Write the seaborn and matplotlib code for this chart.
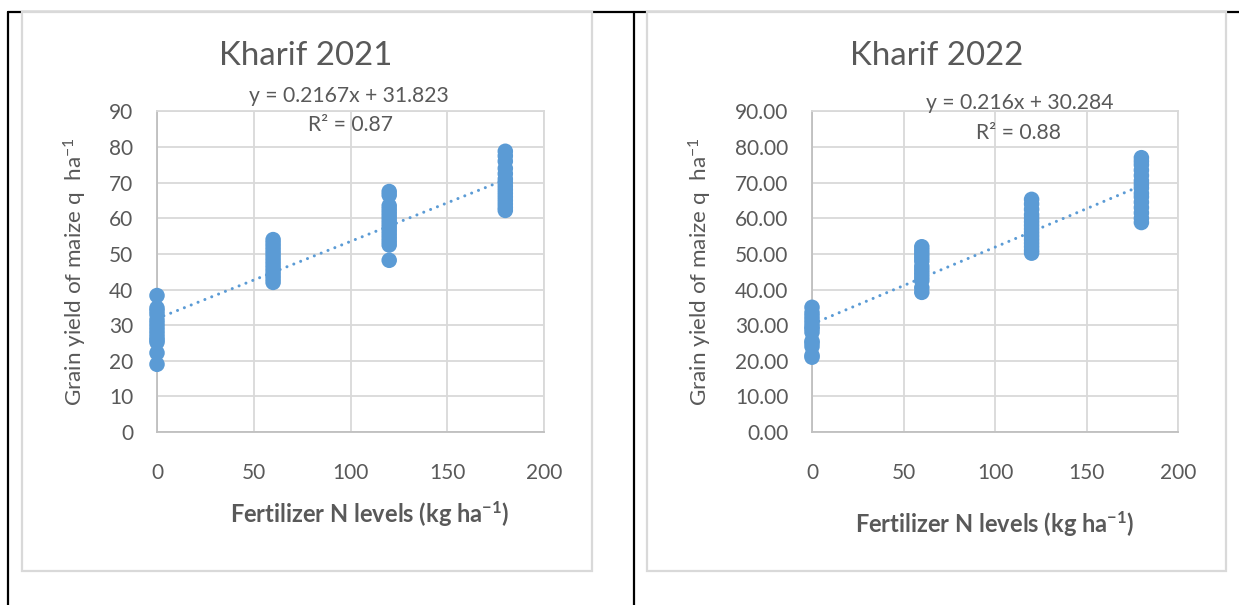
import numpy as np
import pandas as pd
import seaborn as sns
import matplotlib.pyplot as plt
from matplotlib.patches import Rectangle
from matplotlib.lines import Line2D
from matplotlib.ticker import FormatStrFormatter

# ---------------- data ----------------
n_levels = [0, 60, 120, 180]

# Kharif 2021 grain yield (q/ha) per N level
y2021_n0 = [38.3, 34.8, 34.0, 33.0, 31.5, 30.5, 29.5, 28.5, 27.5, 26.5, 25.8, 25.2, 22.2, 19.0]
y2021_n60 = [54.0, 53.0, 52.0, 51.0, 50.0, 49.0, 48.0, 47.0, 46.0, 45.0, 44.0, 43.0, 42.0]
y2021_n120 = [67.5, 66.5, 63.5, 62.5, 61.5, 60.5, 59.5, 58.5, 57.5, 56.5, 55.5, 54.5, 53.5, 52.5, 48.2]
y2021_n180 = [78.8, 77.5, 76.0, 74.0, 72.5, 71.0, 70.0, 69.0, 68.0, 67.0, 66.0, 65.0, 64.0, 63.0, 62.2]

# Kharif 2022 grain yield (q/ha) per N level
y2022_n0 = [35.0, 33.5, 32.5, 31.5, 30.5, 29.5, 29.0, 28.0, 25.5, 25.0, 24.0, 21.5, 21.0]
y2022_n60 = [52.0, 51.0, 50.0, 49.0, 48.0, 46.5, 45.5, 44.5, 43.5, 42.5, 40.5, 39.2]
y2022_n120 = [65.3, 64.0, 62.5, 61.0, 60.0, 59.0, 58.0, 57.0, 56.0, 55.0, 54.0, 53.0, 52.0, 51.0, 50.2]
y2022_n180 = [77.0, 76.0, 75.0, 73.5, 72.0, 70.5, 69.5, 68.5, 67.0, 66.0, 64.5, 63.0, 61.5, 60.0, 58.8]

titles = ["Kharif 2021", "Kharif 2022"]
slopes = [0.2167, 0.216]
intercepts = [31.823, 30.284]
eq_labels = ["y = 0.2167x + 31.823", "y = 0.216x + 30.284"]
r2_labels = ["R² = 0.87", "R² = 0.88"]
x_ticks = [0, 50, 100, 150, 200]
y_ticks = [0, 10, 20, 30, 40, 50, 60, 70, 80, 90]
y_formats = ["%d", "%.2f"]
x_label = r"Fertilizer N levels (kg ha$^{\mathbf{-1}}$)"
y_label = r"Grain yield of maize q  ha$^{-1}$"


def make_df(groups):
    rows = []
    for n, vals in zip(n_levels, groups):
        for v in vals:
            rows.append((n, v))
    return pd.DataFrame(rows, columns=["N", "yield"])


dfs = [make_df([y2021_n0, y2021_n60, y2021_n120, y2021_n180]),
       make_df([y2022_n0, y2022_n60, y2022_n120, y2022_n180])]

# ---------------- style ----------------
sns.set_theme(style="white")
plt.rcParams['font.family'] = ['Lato', 'DejaVu Sans']
plt.rcParams['mathtext.fontset'] = 'custom'
plt.rcParams['mathtext.rm'] = 'Lato'
plt.rcParams['mathtext.it'] = 'Lato:italic'
plt.rcParams['mathtext.bf'] = 'Lato:bold'

W, H = 1239, 605
fig = plt.figure(figsize=(W / 100, H / 100), dpi=100)

TXT = "#595959"
BLUE = "#5b9bd5"
GRID = "#d9d9d9"


def fx(px):
    return px / W


def fy(py):
    return 1 - py / H


# table lines
lw_tab = 1.6
fig.add_artist(Line2D([fx(8), 1.0], [fy(11.5), fy(11.5)], color="black", lw=lw_tab, zorder=-3))
fig.add_artist(Line2D([fx(8), fx(8)], [fy(11.5), 0], color="black", lw=lw_tab, zorder=-3))
fig.add_artist(Line2D([fx(633.5), fx(633.5)], [fy(11.5), 0], color="black", lw=lw_tab, zorder=-3))

# chart area boxes
boxes = [(22, 12, 592, 571), (647, 12, 1226, 571)]
for (x0, y0, x1, y1) in boxes:
    fig.add_artist(Rectangle((fx(x0), fy(y1)), fx(x1) - fx(x0), fy(y0) - fy(y1),
                             transform=fig.transFigure, facecolor="white",
                             edgecolor=GRID, lw=1.6, zorder=-2))

# panel geometry (pixels)
panels = [
    dict(ax=(157, 544), title=(306, 56), eq=(349, 96), r2=(350, 125), xl=(370, 513), yl=(75, 272)),
    dict(ax=(812, 1178), title=(937, 56), eq=(1020, 103), r2=(1019, 133), xl=(995, 523), yl=(700, 272)),
]
y_top_px = 432 - 90 * 3.5625
y_bot_px = 432

for i, p in enumerate(panels):
    xl0, xl1 = p["ax"]
    ax = fig.add_axes([fx(xl0), fy(y_bot_px), fx(xl1) - fx(xl0), fy(y_top_px) - fy(y_bot_px)])
    ax.set_facecolor("none")
    df = dfs[i]
    sns.scatterplot(data=df, x="N", y="yield", ax=ax, color=BLUE, s=125,
                    edgecolor="none", linewidth=0, zorder=3, clip_on=False, legend=False)
    xs = np.array([min(n_levels), max(n_levels)], dtype=float)
    ys = slopes[i] * xs + intercepts[i]
    sns.lineplot(x=xs, y=ys, ax=ax, color=BLUE, lw=2.2, linestyle=(0, (0.01, 2.4)),
                 dash_capstyle="round", solid_capstyle="round", zorder=4, legend=False)

    ax.set_xlim(0, 200)
    ax.set_ylim(0, 90)
    ax.set_xticks(x_ticks)
    ax.set_yticks(y_ticks)
    ax.yaxis.set_major_formatter(FormatStrFormatter(y_formats[i]))
    ax.grid(True, color=GRID, lw=1.3)
    ax.set_axisbelow(True)
    for s in ["top", "right"]:
        ax.spines[s].set_color(GRID)
        ax.spines[s].set_linewidth(1.3)
    for s in ["left", "bottom"]:
        ax.spines[s].set_color("#bfbfbf")
        ax.spines[s].set_linewidth(1.3)
    ax.tick_params(axis="both", length=0, labelsize=15, labelcolor=TXT)
    ax.tick_params(axis="x", pad=22)
    ax.tick_params(axis="y", pad=17)
    ax.set_xlabel("")
    ax.set_ylabel("")

    fig.text(fx(p["title"][0]), fy(p["title"][1]), titles[i], fontsize=23.8, color=TXT,
             ha="center", va="center")
    fig.text(fx(p["eq"][0]), fy(p["eq"][1]), eq_labels[i], fontsize=15.2, color=TXT,
             ha="center", va="center")
    fig.text(fx(p["r2"][0]), fy(p["r2"][1]), r2_labels[i], fontsize=15.2, color=TXT,
             ha="center", va="center")
    fig.text(fx(p["xl"][0]), fy(p["xl"][1]), x_label, fontsize=17, color=TXT,
             fontweight="bold", ha="center", va="center")
    fig.text(fx(p["yl"][0]), fy(p["yl"][1]), y_label, fontsize=16.2, color=TXT,
             rotation=90, ha="center", va="center")

fig.savefig("out.png", dpi=100)
